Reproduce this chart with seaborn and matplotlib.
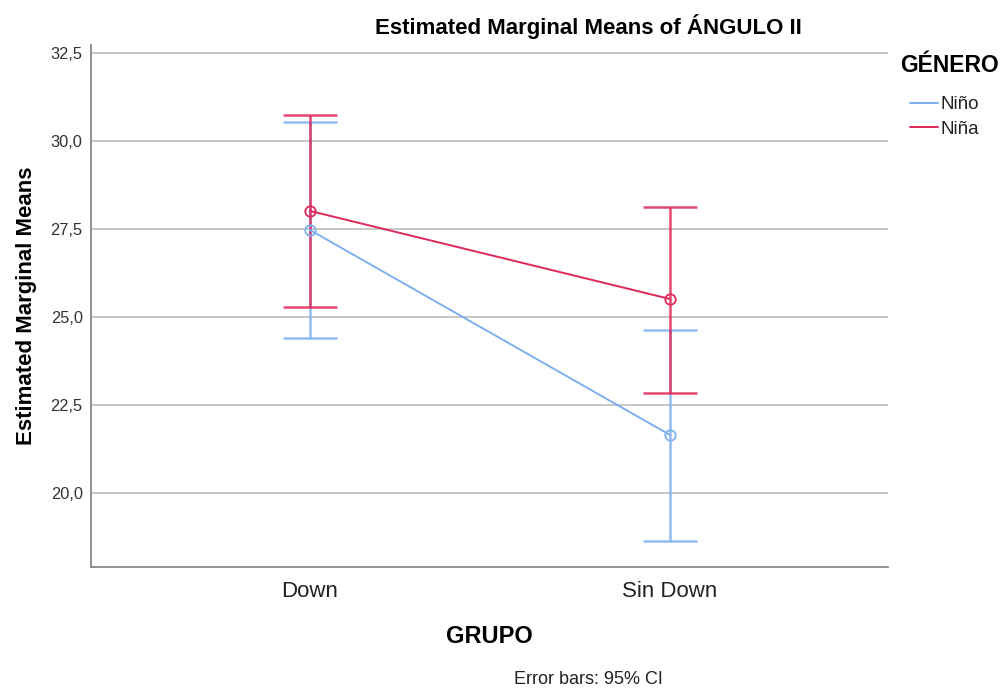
import numpy as np
import pandas as pd
import matplotlib
matplotlib.use("Agg")
import matplotlib.pyplot as plt
import seaborn as sns

# Estimated marginal means of ÁNGULO II by group and gender, with 95% CI
grupos = ["Down", "Sin Down"]
generos = ["Niño", "Niña"]
media_nino = [27.47, 21.65]
media_nina = [28.01, 25.51]
ci_bajo_nino = [24.40, 18.64]
ci_alto_nino = [30.54, 24.63]
ci_bajo_nina = [25.28, 22.84]
ci_alto_nina = [30.74, 28.12]

colores = {"Niño": "#7eb0ef", "Niña": "#e0285a"}

df = pd.DataFrame({
    "GRUPO": grupos * 2,
    "GÉNERO": ["Niño"] * 2 + ["Niña"] * 2,
    "media": media_nino + media_nina,
    "bajo": ci_bajo_nino + ci_bajo_nina,
    "alto": ci_alto_nino + ci_alto_nina,
})

sns.set_theme(style="white")
plt.rcParams["font.family"] = ["Liberation Sans", "DejaVu Sans"]
plt.rcParams["text.color"] = "black"

fig = plt.figure(figsize=(10, 6.88), dpi=100)
ax = fig.add_axes([0.091, 0.176, 0.797, 0.759])

ax.set_ylim(17.9, 32.73)
ax.set_yticks([20.0, 22.5, 25.0, 27.5, 30.0, 32.5])
ax.set_yticklabels(["20,0", "22,5", "25,0", "27,5", "30,0", "32,5"])
ax.yaxis.grid(True, color="#c8c8c8", linewidth=1.4, zorder=0)
ax.set_axisbelow(True)

# Error bars with caps
for g in generos:
    sub = df[df["GÉNERO"] == g]
    xs = np.arange(len(sub))
    m = sub["media"].to_numpy()
    err = np.vstack([m - sub["bajo"].to_numpy(), sub["alto"].to_numpy() - m])
    ax.errorbar(xs, m, yerr=err, fmt="none", ecolor=colores[g], elinewidth=1.8,
                capsize=19.5, capthick=1.8, alpha=0.85, zorder=3)

sns.pointplot(data=df, x="GRUPO", y="media", hue="GÉNERO", hue_order=generos,
              order=grupos, palette=colores, errorbar=None, markers="o",
              markersize=7.5, markerfacecolor="none", markeredgewidth=1.3,
              linewidth=1.4, ax=ax, zorder=4)

ax.set_xlim(-0.608, 1.606)

for s in ["top", "right"]:
    ax.spines[s].set_visible(False)
for s in ["left", "bottom"]:
    ax.spines[s].set_color("#888888")
    ax.spines[s].set_linewidth(1.3)

ax.tick_params(axis="y", length=0, labelsize=11.8, labelcolor="#333333", pad=6)
ax.tick_params(axis="x", length=0, labelsize=16, labelcolor="#222222", pad=10)

ax.set_title("Estimated Marginal Means of ÁNGULO II", fontsize=16,
             fontweight="bold", x=0.6236, y=1.0345, va="center", pad=0)
ax.set_ylabel("Estimated Marginal Means", fontsize=16, fontweight="bold",
              labelpad=10, color="black")
ax.set_xlabel("GRUPO", fontsize=17, fontweight="bold", labelpad=16.4,
              color="black")

fig.text(0.588, 1 - 680 / 688, "Error bars: 95% CI", ha="center", va="center",
         fontsize=13, color="#222222")

# Legend: bold heading, then line entries indented beneath it
fig.text(0.900, 1 - 65 / 688, "GÉNERO", ha="left", va="center",
         fontsize=16.5, fontweight="bold", color="black")
leg = ax.legend(loc="upper left", bbox_to_anchor=(0.910, 1 - 96 / 688),
                bbox_transform=fig.transFigure, frameon=False, fontsize=13.5,
                handlelength=1.5, handletextpad=0.1, labelspacing=0.40,
                borderaxespad=0, borderpad=0)
for h in leg.legend_handles:
    h.set_marker("")
    h.set_linewidth(1.4)
for t in leg.get_texts():
    t.set_color("#222222")

fig.savefig("out.png", dpi=100)
